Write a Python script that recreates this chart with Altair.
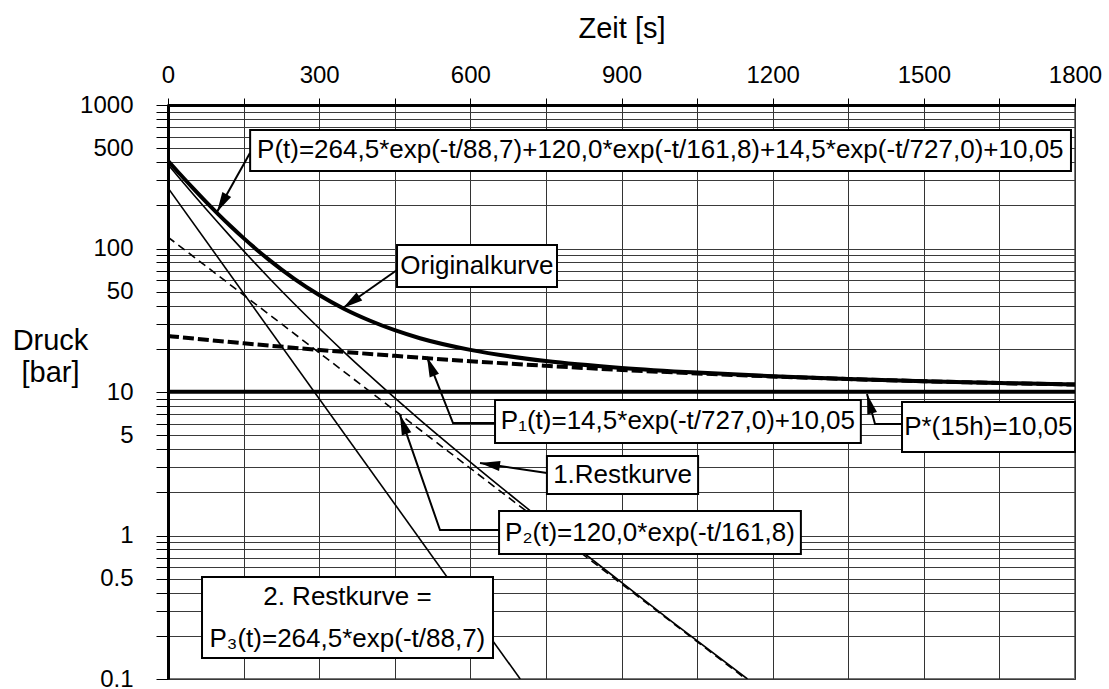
import math
import altair as alt
import pandas as pd

# ---------------- data (t in s, pressure in bar) ----------------
t_orig = [0, 25, 50, 75, 100, 125, 150, 175, 200, 250, 300, 350, 400, 450, 500,
          600, 750, 900, 1050, 1200, 1350, 1500, 1650, 1800]
p_orig = [409.05, 326.4, 262.2, 212.2, 173.1, 142.3, 118.1, 98.95, 83.7, 61.7, 47.4,
          37.9, 31.5, 26.95, 23.7, 19.65, 16.44, 14.72, 13.65, 12.90, 12.34, 11.90,
          11.55, 11.27]

t_p1 = [0, 150, 300, 450, 600, 750, 900, 1050, 1200, 1350, 1500, 1650, 1800]
p_p1 = [24.55, 21.85, 19.65, 17.86, 16.40, 15.22, 14.25, 13.47, 12.83, 12.31,
        11.89, 11.55, 11.27]

t_rest1 = [0, 25, 50, 75, 100, 125, 150, 175, 200, 250, 300, 350, 400, 450, 500,
           600, 700, 800, 900, 1000, 1150]
p_rest1 = [384.5, 302.3, 238.6, 189.1, 150.4, 120.0, 96.2, 77.5, 62.6, 41.4, 27.8,
           18.9, 13.04, 9.09, 6.40, 3.25, 1.68, 0.886, 0.471, 0.251, 0.1]

t_p2 = [0, 1147]
p_p2 = [120.0, 0.1]

t_p3 = [0, 699]
p_p3 = [264.5, 0.1]

t_pstar = [0, 1800]
p_pstar = [10.05, 10.05]

x_ticks = list(range(0, 1801, 150))
y_label_values = [0.1, 0.5, 1, 5, 10, 50, 100, 500, 1000]

# ---------------- annotations (in data units) ----------------
box_text = ["P(t)=264,5*exp(-t/88,7)+120,0*exp(-t/161,8)+14,5*exp(-t/727,0)+10,05",
            "Originalkurve",
            "P\u2081(t)=14,5*exp(-t/727,0)+10,05",
            "P*(15h)=10,05",
            "1.Restkurve",
            "P\u2082(t)=120,0*exp(-t/161,8)"]
box_t1 = [163, 454.5, 649, 1456.7, 752, 657]
box_t2 = [1792, 772, 1375, 1800, 1052, 1256]
box_ptop = [670, 105.8, 8.80, 8.52, 3.58, 1.482]
box_pbot = [347, 53.9, 4.41, 3.82, 1.947, 0.743]
box_tc = [977, 613, 1012, 1628, 902, 956.5]
box_pc = [482, 75.5, 6.23, 5.70, 2.64, 1.049]

rest2_lines = ["2. Restkurve =", "P\u2083(t)=264,5*exp(-t/88,7)"]
rest2_box = dict(t1=67.5, t2=645, ptop=0.514, pbot=0.140)
rest2_tc = [356, 356]
rest2_pc = [0.3726, 0.190]

arrow_t = [[162.7, 97.2],
           [454.5, 347.3],
           [649.1, 565.6, 514.0],
           [1456.7, 1403.1, 1387.2],
           [752.1, 619.2],
           [656.9, 539.8, 460.4]]
arrow_p = [[463.1, 179.7],
           [70.8, 38.5],
           [6.08, 6.08, 17.54],
           [5.98, 5.98, 9.69],
           [2.73, 3.20],
           [1.092, 1.092, 6.92]]

# ---------------- layout ----------------
W, H = 907, 574
T_MAX = 1800
P_MIN, P_MAX = 0.1, 1000
FONT = "Liberation Sans"


def px(t):
    return t / T_MAX * W


def py(p):
    return (math.log10(P_MAX) - math.log10(p)) / (math.log10(P_MAX) - math.log10(P_MIN)) * H


xs = alt.Scale(domain=[0, T_MAX], nice=False, zero=False)
ys = alt.Scale(type="log", domain=[P_MIN, P_MAX], nice=False)

y_vals = [round(m * 10 ** e, 4) for e in range(-1, 3) for m in range(1, 10)] + [1000]

x_axis = alt.Axis(
    orient="top", values=x_ticks, format="d",
    labelExpr="datum.value % 300 == 0 ? datum.label : ''",
    title="Zeit [s]", titleFontSize=29, titleFontWeight="normal", titleColor="black",
    titleBaseline="middle", titleY=-77, titleFont=FONT,
    labelFontSize=24, labelColor="black", labelBaseline="middle", labelPadding=23,
    labelFlush=False, labelOverlap=False, labelFont=FONT,
    tickSize=7, tickColor="black", tickWidth=1,
    domainColor="black", domainWidth=3,
    grid=True, gridColor="#333333", gridWidth=1, gridOpacity=1,
)
y_axis = alt.Axis(
    orient="left", values=y_vals,
    labelExpr="indexof(" + str(y_label_values) + ", datum.value) >= 0 ? format(datum.value, '~g') : ''",
    title=["Druck", "[bar]"], titleFontSize=29, titleFontWeight="normal", titleColor="black",
    titleAngle=0, titleAlign="center", titleBaseline="alphabetic",
    titleX=-118, titleY=244, titleLineHeight=32, titleFont=FONT,
    labelFontSize=24, labelColor="black", labelPadding=23, labelOverlap=False,
    labelFont=FONT, labelFlush=False,
    tickSize=12, tickColor="black", tickWidth=1,
    domainColor="black", domainWidth=3,
    grid=True, gridColor="#3a3a3a", gridWidth=1, gridOpacity=1,
)


def X(field):
    return alt.X(field, type="quantitative", scale=xs, axis=x_axis)


def Y(field):
    return alt.Y(field, type="quantitative", scale=ys, axis=y_axis)


def curve(t, p, width, dash=None, interp="linear"):
    df = pd.DataFrame({"t": t, "p": p})
    kw = dict(color="black", strokeWidth=width, clip=True, interpolate=interp)
    if dash:
        kw["strokeDash"] = dash
    return alt.Chart(df).mark_line(**kw).encode(x=X("t"), y=Y("p"))


layers = [
    curve(t_p3, p_p3, 1.6),
    curve(t_p2, p_p2, 1.6, dash=[8, 5]),
    curve(t_rest1, p_rest1, 1.6, interp="monotone"),
    curve(t_pstar, p_pstar, 4),
    curve(t_p1, p_p1, 4, dash=[11, 4], interp="monotone"),
    curve(t_orig, p_orig, 4, interp="monotone"),
]

box_df = pd.DataFrame({"t1": box_t1 + [rest2_box["t1"]], "t2": box_t2 + [rest2_box["t2"]],
                       "ptop": box_ptop + [rest2_box["ptop"]], "pbot": box_pbot + [rest2_box["pbot"]]})
layers.append(
    alt.Chart(box_df).mark_rect(fill="white", stroke="black", strokeWidth=2).encode(
        x=X("t1"), x2="t2:Q", y=Y("ptop"), y2="pbot:Q")
)

text_df = pd.DataFrame({"label": box_text + rest2_lines,
                        "t": box_tc + rest2_tc,
                        "p": box_pc + rest2_pc})
layers.append(
    alt.Chart(text_df).mark_text(fontSize=26, font=FONT, align="center", baseline="middle",
                                 color="black").encode(x=X("t"), y=Y("p"), text="label:N")
)

rows = []
tips = []
for i, (ts, ps) in enumerate(zip(arrow_t, arrow_p)):
    for j, (t, p) in enumerate(zip(ts, ps)):
        rows.append({"aid": i, "seq": j, "t": t, "p": p})
    dx = px(ts[-1]) - px(ts[-2])
    dy = py(ps[-1]) - py(ps[-2])
    ang = math.degrees(math.atan2(dx, -dy)) % 360
    tips.append({"t": ts[-1], "p": ps[-1], "ang": ang})

layers.append(
    alt.Chart(pd.DataFrame(rows)).mark_line(color="black", strokeWidth=2).encode(
        x=X("t"), y=Y("p"), detail="aid:N", order="seq:Q")
)
layers.append(
    alt.Chart(pd.DataFrame(tips)).mark_point(
        shape="M0,0L-0.5,2L0.5,2Z", filled=True, size=400, color="black", opacity=1,
        strokeWidth=0).encode(x=X("t"), y=Y("p"), angle=alt.Angle("ang:Q", scale=None))
)

chart = alt.layer(*layers).properties(
    width=W, height=H,
    autosize=alt.AutoSizeParams(type="none"),
    padding={"left": 168, "top": 105, "right": 34, "bottom": 10},
    background="white",
).configure(font=FONT).configure_view(stroke="#777777", strokeWidth=2)

chart.save("out.html", embed_options={"renderer": "svg", "actions": False})
